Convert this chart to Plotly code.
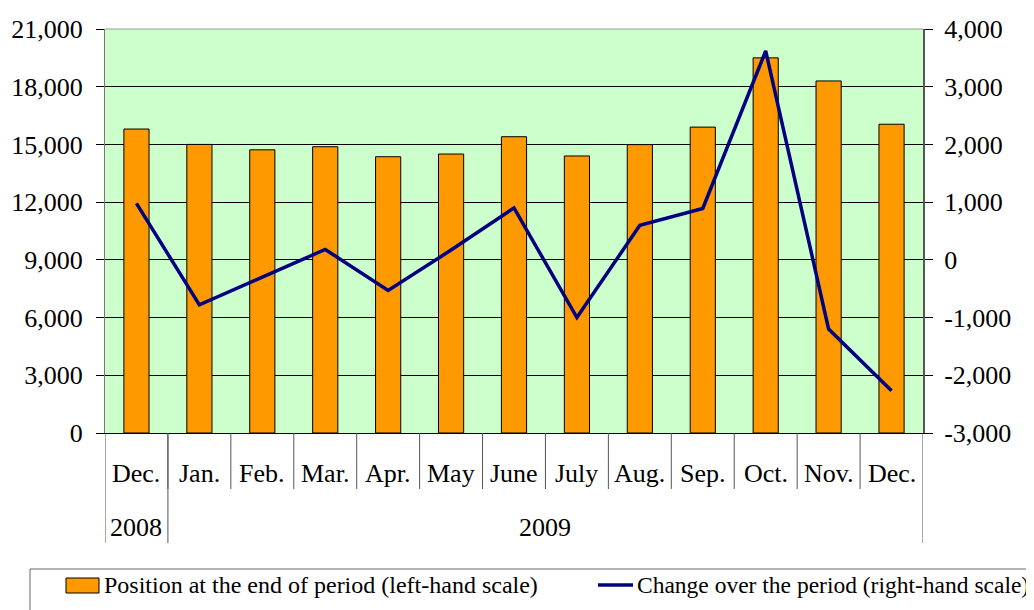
import plotly.graph_objects as go

months = ["Dec.", "Jan.", "Feb.", "Mar.", "Apr.", "May", "June", "July", "Aug.", "Sep.", "Oct.", "Nov.", "Dec."]
years = ["2008", "2009"]
year_span = [1, 12]  # number of months in each year group
position = [15800, 15000, 14720, 14880, 14360, 14500, 15400, 14400, 14990, 15900, 19500, 18300, 16050]
change = [980, -780, -300, 180, -530, 170, 900, -1000, 600, 890, 3620, -1200, -2270]
left_ticks = list(range(0, 21001, 3000))
right_ticks = list(range(-3000, 4001, 1000))
names = ["Position at the end of period (left-hand scale)", "Change over the period (right-hand scale)"]

W, H = 1034, 610
OFF = 8  # page body margin
L, R, T, B = 105, 923, 29, 433
pw, ph = R - L, B - T
FONT = "Liberation Serif"

def px(x):
    return (x - L) / pw

def py(y):
    return (B - y) / ph

xs = list(range(len(months)))

fig = go.Figure()
fig.add_trace(go.Bar(x=xs, y=position, width=0.4, marker=dict(color="#FF9900", line=dict(color="black", width=1)),
                     name=names[0], showlegend=False, yaxis="y"))
fig.add_trace(go.Scatter(x=xs, y=change, mode="lines", line=dict(color="#000080", width=3.5),
                         name=names[1], showlegend=False, yaxis="y2"))

shapes = []
annotations = []
for i, m in enumerate(months):
    annotations.append(dict(x=i, y=py(473), xref="x", yref="paper", text=m, showarrow=False,
                            font=dict(family=FONT, size=26, color="black"), xanchor="center", yanchor="middle"))
for i in range(1, len(months)):
    shapes.append(dict(type="line", xref="x", yref="paper", x0=i - 0.5, x1=i - 0.5, y0=0, y1=py(489),
                       line=dict(color="#555555", width=1)))
start = 0
bounds = [-0.5]
for yname, n in zip(years, year_span):
    annotations.append(dict(x=start + (n - 1) / 2, y=py(527), xref="x", yref="paper", text=yname, showarrow=False,
                            font=dict(family=FONT, size=26, color="black"), xanchor="center", yanchor="middle"))
    start += n
    bounds.append(start - 0.5)
for b in bounds:
    shapes.append(dict(type="line", xref="x", yref="paper", x0=b, x1=b, y0=0, y1=py(543),
                       line=dict(color="#555555", width=1)))

# legend box
shapes.append(dict(type="rect", xref="paper", yref="paper", x0=px(30), x1=px(1045), y0=py(569), y1=py(625),
                   line=dict(color="#666666", width=1), fillcolor="white", layer="below"))
shapes.append(dict(type="rect", xref="paper", yref="paper", x0=px(66), x1=px(99), y0=py(578), y1=py(593),
                   line=dict(color="black", width=1), fillcolor="#FF9900"))
shapes.append(dict(type="line", xref="paper", yref="paper", x0=px(598), x1=px(633), y0=py(585), y1=py(585),
                   line=dict(color="#000080", width=3.5)))
annotations.append(dict(x=px(102), y=py(585), xref="paper", yref="paper", text=names[0], showarrow=False,
                        xanchor="left", yanchor="middle", font=dict(family=FONT, size=24, color="black")))
annotations.append(dict(x=px(635), y=py(585), xref="paper", yref="paper", text=names[1], showarrow=False,
                        xanchor="left", yanchor="middle", font=dict(family=FONT, size=23.5, color="black")))
shapes.append(dict(type="line", xref="paper", yref="paper", x0=0, x1=1, y0=1, y1=1,
                   line=dict(color="#999999", width=1)))

fig.update_layout(
    width=W, height=H,
    margin=dict(l=L - OFF, r=W - R + OFF, t=T - OFF, b=H - B + OFF, autoexpand=False),
    paper_bgcolor="white", plot_bgcolor="#CCFFCC",
    font=dict(family=FONT, color="black"),
    xaxis=dict(range=[-0.5, len(months) - 0.5], showticklabels=False, ticks="", showgrid=False, zeroline=False,
               showline=True, linecolor="black", linewidth=1, fixedrange=True),
    yaxis=dict(range=[0, 21000], tickvals=left_ticks, ticktext=[f"{v:,}" for v in left_ticks],
               ticks="outside", ticklen=8, tickcolor="black",
               showline=True, linecolor="#777777", linewidth=1, showgrid=True, gridcolor="black", gridwidth=1,
               zeroline=False, tickfont=dict(family=FONT, size=26, color="black"), ticklabelstandoff=8),
    yaxis2=dict(range=[-3000, 4000], tickvals=right_ticks, ticktext=[f"{v:,}" for v in right_ticks],
                overlaying="y", side="right",
                ticks="outside", ticklen=8, tickcolor="black", showline=True, linecolor="#555555", linewidth=2,
                showgrid=False, zeroline=False, tickfont=dict(family=FONT, size=26, color="black"),
                ticklabelstandoff=6),
    shapes=shapes, annotations=annotations,
)

fig.write_html("out.html")
